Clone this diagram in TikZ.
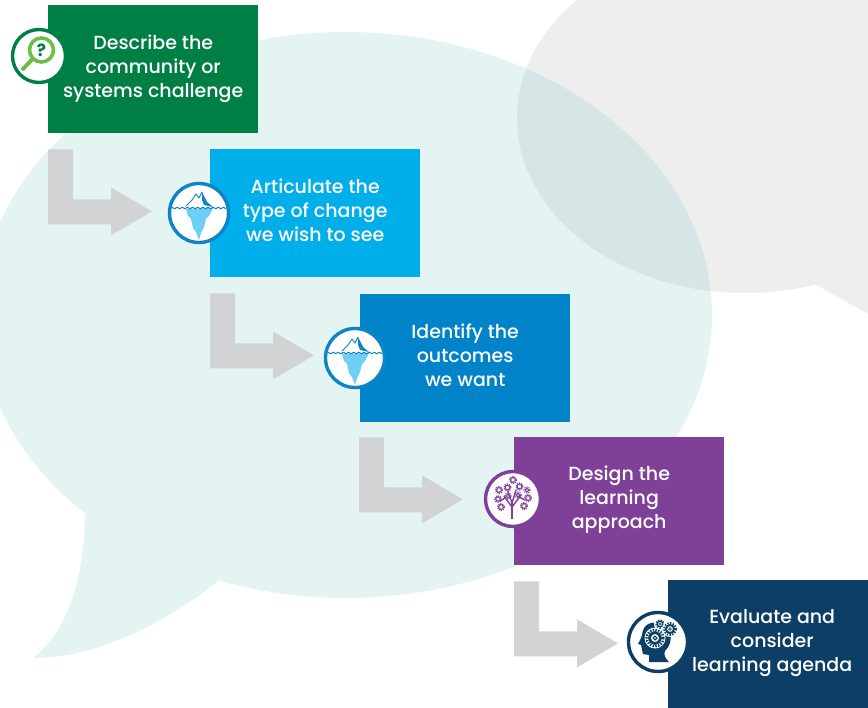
\documentclass[tikz,border=0pt]{standalone}
\usepackage{fontspec}
\setmainfont{Poppins}
\newfontfamily\boxfont{Poppins Medium}
\usetikzlibrary{calc}
\definecolor{teal0}{HTML}{E4F4F2}
\definecolor{gray0}{HTML}{EEEEEE}
\definecolor{over0}{HTML}{D6E5E5}
\definecolor{arrow0}{HTML}{D1D3D4}
\definecolor{cgreen}{HTML}{007F45}
\definecolor{ccyan}{HTML}{00AEEA}
\definecolor{cblue}{HTML}{0083C8}
\definecolor{cpurple}{HTML}{7F4098}
\definecolor{cnavy}{HTML}{0D3F66}
\definecolor{lgreen}{HTML}{6CBE45}
\definecolor{lblue}{HTML}{6DCFF6}
\definecolor{rblue}{HTML}{0E83C5}
\tikzset{
  stepbox/.style={minimum width=210pt,minimum height=128pt,inner sep=0pt,anchor=north west},
  steptext/.style={text=white,align=center,inner sep=0pt,font=\boxfont\fontsize{19}{24}\selectfont},
  ring/.style={circle,fill=white,draw=#1,line width=3.4pt,inner sep=0pt},
  blockarrow/.pic={\fill[arrow0] (0,0)--(25,0)--(25,50)--(63,50)--(63,38)--(104,62)--(63,86)--(63,75)--(0,75)--cycle;},
  iceberg/.pic={
    \fill[lblue] (-13,-4)--(14,-5)--(10,3)--(7,6)--(5,14)--(2,20)--(0,27)--(-3,19)--(-6,15)--(-8,6)--(-11,3)--cycle;
    \fill[rblue] (3,-21)--(8,-11)--(14,-6)--(9,-7)--(5,-8)--(3,-13)--cycle;
    \draw[rblue,line width=0.9pt,line join=round] (-13,-7)--(-7,-13)--(-3,-19)--(0,-15)--(3,-21);
    \draw[rblue,line width=1pt] plot[domain=-27:27,samples=80] (\x,{-5+0.7*sin(\x*70)});
  },
}
\newcommand{\cog}[3]{% x,y,r
  \draw[cpurple,line width=1.1pt] (#1,#2) circle[radius=#3];
  \draw[cpurple,line width=1.2pt,dash pattern=on 1.1pt off 1.1pt] (#1,#2) circle[radius=#3+1.1];
}
\newcommand{\ncog}[3]{%
  \fill[white] (#1,#2) circle[radius=#3+1.5];
  \draw[cnavy,line width=#3*0.3pt] (#1,#2) circle[radius=#3*0.62];
  \draw[cnavy,line width=#3*0.28pt,dash pattern=on 1.4pt off 1.4pt] (#1,#2) circle[radius=#3*0.92];
  \draw[cnavy,line width=#3*0.12pt] (#1,#2) circle[radius=#3*0.22];
}
\begin{document}
\begin{tikzpicture}[x=1pt,y=-1pt]
\useasboundingbox (0,0) rectangle (868,708);
\clip (0,0) rectangle (868,708);
% speech bubbles
\fill[gray0] (745,118) ellipse[x radius=228,y radius=175];
\fill[gray0] (790,270)--(868,314)--(868,180)--cycle;
\fill[teal0] (346,315) ellipse[x radius=366,y radius=283];
\fill[teal0] (85,505) .. controls (86,570) and (70,630) .. (33,658)
   .. controls (100,658) and (170,620) .. (222,578) -- (300,450) -- cycle;
\begin{scope}
  \clip (745,118) ellipse[x radius=228,y radius=175];
  \fill[over0] (346,315) ellipse[x radius=366,y radius=283];
\end{scope}
% boxes
\node[stepbox,fill=cgreen] (a) at (48,5) {};
\node[stepbox,fill=ccyan] (b) at (210,149) {};
\node[stepbox,fill=cblue] (c) at (360,294) {};
\node[stepbox,fill=cpurple] (d) at (514,437) {};
\node[stepbox,fill=cnavy] (e) at (668,580) {};
\node[steptext] (ta) at ($(a.center)+(0,0)$) {Describe the\\community or\\systems challenge};
\node[steptext] (tb) at ($(b.center)+(0,-3)$) {Articulate the\\type of change\\we wish to see};
\node[steptext] (tc) at ($(c.center)+(0,-3)$) {Identify the\\outcomes\\we want};
\node[steptext] (td) at ($(d.center)+(0,-2)$) {Design the\\learning\\approach};
\node[steptext] (te) at ($(e.center)+(-1,-1)$) {Evaluate and\\consider\\learning agenda};
% block arrows
\path ($(a.south west)+(0,16)$) pic {blockarrow};
\path ($(b.south west)+(0,16)$) pic {blockarrow};
\path ($(c.south west)+(-1,15)$) pic {blockarrow};
\path ($(d.south west)+(0,16)$) pic {blockarrow};
% icon rings
\node[ring=cgreen,minimum size=53pt] (i1) at (39,56) {};
\node[ring=rblue,minimum size=59pt] (i2) at (199,213) {};
\node[ring=rblue,minimum size=59pt] (i3) at (355,358) {};
\node[ring=cpurple,minimum size=55pt] (i4) at (513,499) {};
\node[ring=cnavy,minimum size=59pt] (i5) at (658,642) {};
% magnifier
\draw[lgreen,line width=3.6pt] (41.5,50) circle[radius=12];
\draw[lgreen,line width=4pt,line cap=round] (32,59.5)--(23,69);
\node[text=cgreen,font=\fontsize{17}{17}\selectfont\bfseries,inner sep=0pt] (q) at (41.5,50) {?};
% icebergs
\path (i2) pic {iceberg};
\path (i3) pic {iceberg};
% tree
\begin{scope}[shift={(i4)}]
  \draw[cpurple,line width=2.6pt] (-1,20)--(-1,3);
  \draw[cpurple,line width=1.4pt,line cap=round] (-1,8)--(-9,-3) (-1,8)--(8,-4) (-1,4)--(-5,-8) (-1,4)--(3,-9)
     (-8,-1)--(-13,2) (6,-2)--(12,1);
  \cog{0}{-19}{2.4}\cog{-14}{-9}{2.4}\cog{-5.5}{-11.5}{2.4}\cog{6.5}{-12.5}{2.4}\cog{14}{-9}{1.9}
  \cog{-15}{0}{2.2}\cog{-5}{-3}{1.9}\cog{5}{-4}{1.9}\cog{15}{-1}{2.4}\cog{-12}{8}{2.4}\cog{11}{7}{2.4}
\end{scope}
% head with gears
\begin{scope}[shift={(i5)}]
  \fill[cnavy] (-16,-7) .. controls (-15,-20) and (-4,-20) .. (0,-19) -- (12,-10)
     .. controls (14,-2) and (12,4) .. (7,9) .. controls (5,13) and (8,17) .. (11,20)
     -- (-9,20) -- (-9,13) -- (-15,12) -- (-17,3) -- (-20,2) -- (-17,-4) -- cycle;
  \ncog{-3}{-4}{9}
  \ncog{2}{-18}{4.5}
  \ncog{12}{-13}{6.5}
\end{scope}
\end{tikzpicture}
\end{document}
